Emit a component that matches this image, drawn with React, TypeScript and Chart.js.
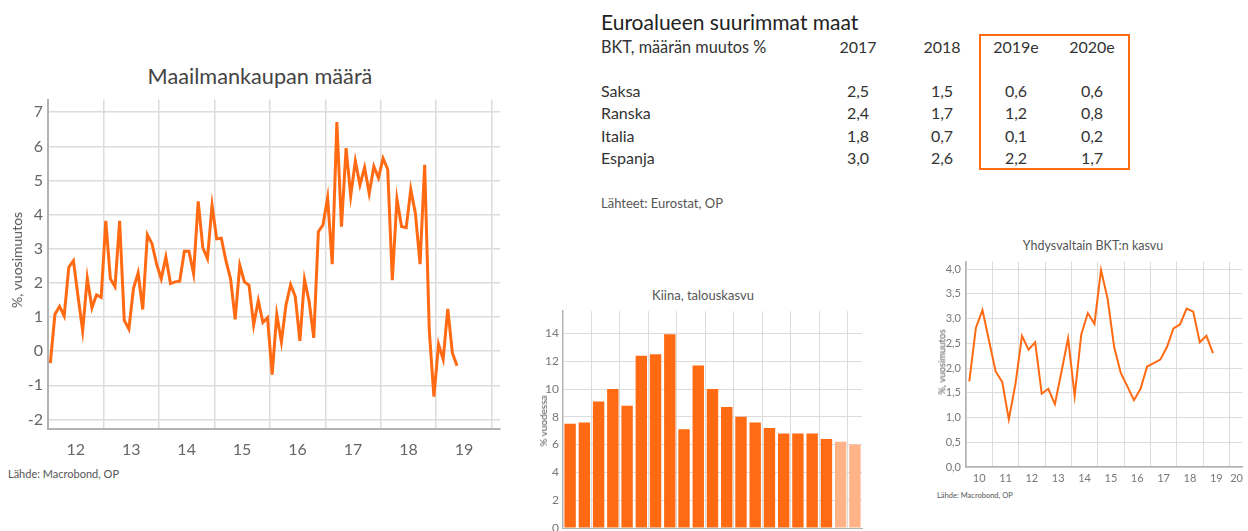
import React, { useEffect, useRef } from 'react';
import { Chart, registerables } from 'chart.js';

Chart.register(...registerables);

const FONT = 'Lato, "Open Sans", sans-serif';
const ORANGE = '#ff6a13';
const ORANGE_LIGHT = '#ffb386';
const GRID = '#dcdcdc';
const AXIS = '#b3b3b3';
const TICK = '#666666';

// ---- Maailmankaupan määrä (monthly, %, y/y), Jan 2012 ->
const tradeStartYear = 2012;
const tradeEndYear = 2020;
const tradeValues = [
  -0.35, 1.08, 1.31, 1.03, 2.46, 2.65, 1.6, 0.6, 2.14, 1.27, 1.65, 1.58,
  3.82, 2.12, 1.89, 3.82, 0.9, 0.65, 1.84, 2.29, 1.22, 3.41, 3.15, 2.55,
  2.12, 2.76, 1.98, 2.03, 2.05, 2.93, 2.93, 2.27, 4.39, 3.03, 2.71, 4.27,
  3.29, 3.31, 2.65, 2.12, 0.93, 2.52, 2.03, 1.93, 0.77, 1.48, 0.84, 0.98,
  -0.69, 1.08, 0.27, 1.36, 1.95, 1.6, 0.3, 2.1, 1.46, 0.39, 3.5, 3.7,
  4.49, 2.55, 6.71, 3.65, 5.95, 4.55, 5.57, 4.87, 5.38, 4.62, 5.41, 5.08,
  5.65, 5.33, 2.08, 4.46, 3.65, 3.62, 4.74, 4.03, 2.55, 5.46, 0.6, -1.33,
  0.2, -0.24, 1.24, -0.05, -0.43,
];

// ---- Euroalueen suurimmat maat (table)
const tableTitle = 'Euroalueen suurimmat maat';
const tableSubtitle = 'BKT, määrän muutos %';
const tableYears = ['2017', '2018', '2019e', '2020e'];
const countries = ['Saksa', 'Ranska', 'Italia', 'Espanja'];
const gdp2017 = [2.5, 2.4, 1.8, 3.0];
const gdp2018 = [1.5, 1.7, 0.7, 2.6];
const gdp2019e = [0.6, 1.2, 0.1, 2.2];
const gdp2020e = [0.6, 0.8, 0.2, 1.7];
const tableSource = 'Lähteet: Eurostat, OP';

// ---- Kiina, talouskasvu (annual, %)
const chinaYears = [
  '2000', '2001', '2002', '2003', '2004', '2005', '2006', '2007', '2008', '2009', '2010',
  '2011', '2012', '2013', '2014', '2015', '2016', '2017', '2018', '2019e', '2020e',
];
const chinaGrowth = [
  7.5, 7.6, 9.1, 10.0, 8.8, 12.4, 12.5, 13.95, 7.1, 11.7, 10.0,
  8.7, 8.0, 7.6, 7.2, 6.8, 6.8, 6.8, 6.4, 6.2, 6.0,
];
const chinaForecast = [
  false, false, false, false, false, false, false, false, false, false, false,
  false, false, false, false, false, false, false, false, true, true,
];

// ---- Yhdysvaltain BKT:n kasvu (quarterly, %, y/y), 2010Q1 ->
const usStartYear = 2010;
const usEndYear = 2020;
const usGrowth = [
  1.73, 2.81, 3.17, 2.55, 1.93, 1.72, 0.96, 1.67, 2.65, 2.37,
  2.52, 1.48, 1.58, 1.27, 1.93, 2.6, 1.43, 2.68, 3.11, 2.89,
  3.98, 3.4, 2.42, 1.9, 1.63, 1.35, 1.58, 2.03, 2.1, 2.17,
  2.42, 2.8, 2.88, 3.2, 3.14, 2.52, 2.65, 2.3,
];

const fmt = (v: number) => v.toFixed(1).replace('.', ',');

function yearTicks(start: number, end: number, lastLabelPos?: number) {
  const t: { value: number }[] = [];
  for (let y = start; y <= end; y++) {
    t.push({ value: y });
    if (y < end) t.push({ value: y + 0.5 });
  }
  if (lastLabelPos !== undefined) t.push({ value: lastLabelPos });
  return t;
}

const isInt = (v: number) => Math.abs(v - Math.round(v)) < 1e-9;

function ChartBox({ left, top, width, height, make }: any) {
  const ref = useRef<HTMLCanvasElement>(null);
  useEffect(() => {
    const chart = new Chart(ref.current as HTMLCanvasElement, make());
    return () => chart.destroy();
  }, []);
  return (
    <div style={{ position: 'absolute', left, top, width, height }}>
      <canvas ref={ref} width={width} height={height} style={{ display: 'block', width, height }} />
    </div>
  );
}

function Txt({ x, y, size, color = '#333', align = 'left', rotate = false, children }: any) {
  let transform = 'translate(0,-50%)';
  if (align === 'center') transform = 'translate(-50%,-50%)';
  if (rotate) transform = 'translate(-50%,-50%) rotate(-90deg)';
  return (
    <div
      style={{
        position: 'absolute',
        left: x,
        top: y,
        transform,
        fontFamily: FONT,
        fontSize: size,
        lineHeight: 1,
        color,
        whiteSpace: 'nowrap',
      }}
    >
      {children}
    </div>
  );
}

function tradeConfig(): any {
  return {
    type: 'line',
    data: {
      datasets: [
        {
          data: tradeValues.map((v, i) => ({ x: tradeStartYear + (i + 0.5) / 12, y: v })),
          borderColor: ORANGE,
          borderWidth: 3,
          pointRadius: 0,
          tension: 0,
        },
      ],
    },
    options: {
      responsive: false,
      animation: false,
      layout: { padding: { top: 5, right: 10, left: 0, bottom: 0 } },
      plugins: { legend: { display: false }, tooltip: { enabled: false } },
      scales: {
        x: {
          type: 'linear',
          min: tradeStartYear,
          max: tradeEndYear + 0.15,
          afterBuildTicks: (s: any) => {
            s.ticks = yearTicks(tradeStartYear, tradeEndYear);
          },
          afterFit: (s: any) => {
            s.height = 36;
          },
          grid: {
            drawTicks: false,
            lineWidth: 1.5,
            color: (c: any) => (c.tick && isInt(c.tick.value) ? GRID : 'rgba(0,0,0,0)'),
          },
          border: { color: AXIS, width: 2 },
          ticks: {
            autoSkip: false,
            maxRotation: 0,
            padding: 11,
            color: TICK,
            font: { family: FONT, size: 16 },
            callback: (v: number) => (isInt(v) ? '' : String(Math.floor(v) % 100)),
          },
        },
        y: {
          min: -2.28,
          max: 7.37,
          afterFit: (s: any) => {
            s.width = 48;
          },
          grid: { drawTicks: false, lineWidth: 1.5, color: GRID },
          border: { color: AXIS, width: 2 },
          ticks: {
            stepSize: 1,
            includeBounds: false,
            padding: 5,
            color: TICK,
            font: { family: FONT, size: 16 },
          },
        },
      },
    },
  };
}

function chinaConfig(): any {
  return {
    type: 'bar',
    data: {
      labels: chinaYears,
      datasets: [
        {
          data: chinaGrowth,
          backgroundColor: chinaForecast.map((f) => (f ? ORANGE_LIGHT : ORANGE)),
          borderWidth: 0,
          barPercentage: 0.8,
          categoryPercentage: 1,
        },
      ],
    },
    options: {
      responsive: false,
      animation: false,
      layout: { padding: { top: 3, right: 8, left: 0, bottom: 0 } },
      plugins: { legend: { display: false }, tooltip: { enabled: false } },
      scales: {
        x: {
          offset: true,
          afterFit: (s: any) => {
            s.height = 12;
          },
          grid: {
            offset: true,
            drawTicks: false,
            lineWidth: 1,
            color: (c: any) =>
              c.index > 0 && c.index < chinaYears.length && c.index % 2 === 0 ? GRID : 'rgba(0,0,0,0)',
          },
          border: { color: AXIS, width: 1 },
          ticks: { display: false },
        },
        y: {
          min: 0,
          max: 15.6,
          afterFit: (s: any) => {
            s.width = 33;
          },
          grid: { drawTicks: false, lineWidth: 1, color: GRID },
          border: { color: AXIS, width: 1.5 },
          ticks: {
            stepSize: 1,
            includeBounds: false,
            padding: 4,
            color: '#777',
            font: { family: FONT, size: 12 },
            callback: (v: number) => (v % 2 === 0 ? String(v) : ''),
          },
        },
      },
    },
  };
}

function usConfig(): any {
  return {
    type: 'line',
    data: {
      datasets: [
        {
          data: usGrowth.map((v, i) => ({ x: usStartYear + (i + 0.5) / 4, y: v })),
          borderColor: ORANGE,
          borderWidth: 2,
          pointRadius: 0,
          tension: 0,
        },
      ],
    },
    options: {
      responsive: false,
      animation: false,
      layout: { padding: { top: 5, right: 3, left: 0, bottom: 0 } },
      plugins: { legend: { display: false }, tooltip: { enabled: false } },
      scales: {
        x: {
          type: 'linear',
          min: usStartYear,
          max: usEndYear + 0.5,
          afterBuildTicks: (s: any) => {
            s.ticks = yearTicks(usStartYear, usEndYear, usEndYear + 0.27);
          },
          afterFit: (s: any) => {
            s.height = 23;
          },
          grid: {
            drawTicks: false,
            lineWidth: 1,
            color: (c: any) => (c.tick && isInt(c.tick.value) ? GRID : 'rgba(0,0,0,0)'),
          },
          border: { color: AXIS, width: 1.5 },
          ticks: {
            autoSkip: false,
            maxRotation: 0,
            padding: 5,
            color: '#777',
            font: { family: FONT, size: 11 },
            callback: (v: number) => (isInt(v) ? '' : String(Math.floor(v) % 100)),
          },
        },
        y: {
          min: 0,
          max: 4.15,
          afterFit: (s: any) => {
            s.width = 46;
          },
          grid: { drawTicks: false, lineWidth: 1, color: GRID },
          border: { color: AXIS, width: 1.5 },
          ticks: {
            stepSize: 0.5,
            includeBounds: false,
            padding: 5,
            color: '#777',
            font: { family: FONT, size: 11 },
            callback: (v: number) => fmt(v),
          },
        },
      },
    },
  };
}

const colCenters = [858, 942, 1016, 1092];
const rowYs = [90.7, 113.3, 136, 158.3];

export default function App() {
  const columns = [gdp2017, gdp2018, gdp2019e, gdp2020e];
  return (
    <div
      style={{
        position: 'fixed',
        left: 0,
        top: 0,
        width: 1248,
        height: 531,
        overflow: 'hidden',
        background: '#fff',
      }}
    >
      {/* Left chart */}
      <Txt x={260} y={77} size={21.7} color="#444" align="center">
        Maailmankaupan määrä
      </Txt>
      <ChartBox left={0} top={85} width={510} height={380} make={tradeConfig} />
      <Txt x={17} y={260} size={14} color="#555" rotate>
        %, vuosimuutos
      </Txt>
      <Txt x={8} y={473} size={11} color="#555">
        Lähde: Macrobond, OP
      </Txt>

      {/* Table */}
      <Txt x={601} y={20.5} size={21} color="#222">
        {tableTitle}
      </Txt>
      <Txt x={601} y={46.5} size={16.3} color="#333">
        {tableSubtitle}
      </Txt>
      {tableYears.map((y, i) => (
        <Txt key={y} x={colCenters[i]} y={46.5} size={16} color="#333" align="center">
          {y}
        </Txt>
      ))}
      {countries.map((c, r) => (
        <React.Fragment key={c}>
          <Txt x={601} y={rowYs[r]} size={16} color="#333">
            {c}
          </Txt>
          {columns.map((col, k) => (
            <Txt key={k} x={colCenters[k]} y={rowYs[r]} size={16} color="#333" align="center">
              {fmt(col[r])}
            </Txt>
          ))}
        </React.Fragment>
      ))}
      <div
        style={{
          position: 'absolute',
          left: 979,
          top: 34,
          width: 151,
          height: 136,
          border: `2px solid ${ORANGE}`,
          boxSizing: 'border-box',
        }}
      />
      <Txt x={601} y={203} size={13} color="#555">
        {tableSource}
      </Txt>

      {/* China */}
      <Txt x={703} y={295} size={13} color="#555" align="center">
        Kiina, talouskasvu
      </Txt>
      <ChartBox left={530} top={300} width={340} height={240} make={chinaConfig} />
      <Txt x={543} y={421} size={10} color="#555" rotate>
        % vuodessa
      </Txt>

      {/* US */}
      <Txt x={1093} y={246} size={12.5} color="#555" align="center">
        Yhdysvaltain BKT:n kasvu
      </Txt>
      <ChartBox left={920} top={250} width={328} height={240} make={usConfig} />
      <Txt x={942} y={362} size={9.5} color="#555" rotate>
        %, vuosimuutos
      </Txt>
      <Txt x={937} y={496} size={7.5} color="#555">
        Lähde: Macrobond, OP
      </Txt>
    </div>
  );
}
